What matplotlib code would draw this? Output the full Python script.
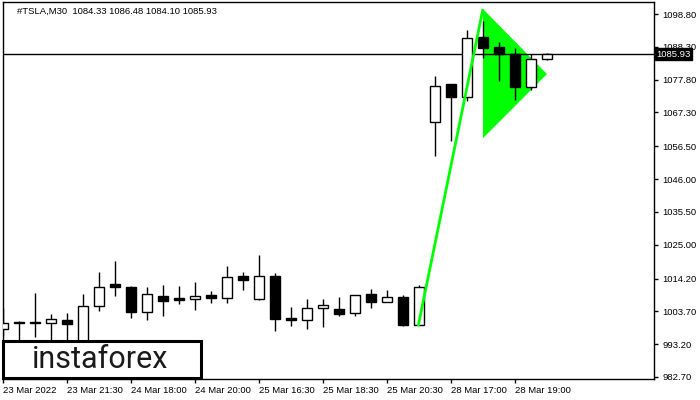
import matplotlib
matplotlib.use("Agg")
import matplotlib.pyplot as plt
import matplotlib.transforms as mtransforms
from matplotlib.patches import Rectangle

# ---- data ----
opens  = [998.2, 1000.4, 1000.4, 999.9, 1000.9, 993.5, 1005.5, 1012.5, 1011.5, 1003.6,
          1008.6, 1007.9, 1007.7, 1008.9, 1008.1, 1014.9, 1007.7, 1014.9, 1001.6, 1001.0,
          1004.9, 1004.4, 1003.1, 1009.3, 1006.6, 1008.2, 999.4, 1064.2, 1076.4, 1072.4,
          1091.4, 1088.1, 1085.9, 1075.4, 1084.33]
highs  = [1004.8, 1000.6, 1009.7, 1002.9, 1003.3, 1009.4, 1016.3, 1019.8, 1011.8, 1011.5,
          1012.2, 1011.8, 1013.1, 1010.2, 1018.2, 1016.3, 1021.7, 1015.9, 1005.0, 1007.7,
          1007.7, 1008.3, 1008.8, 1010.9, 1010.4, 1008.8, 1012.1, 1079.0, 1076.4, 1093.7,
          1096.7, 1089.8, 1087.8, 1085.9, 1086.48]
lows   = [995.8, 992.5, 995.4, 992.5, 992.5, 991.0, 1003.9, 1008.7, 1001.7, 1000.9,
          1002.3, 1006.0, 1004.1, 1006.3, 1006.3, 1010.6, 1007.4, 997.3, 999.1, 998.2,
          998.8, 1002.1, 1002.3, 1004.9, 1006.6, 999.0, 999.4, 1053.5, 1058.3, 1071.1,
          1084.8, 1077.4, 1071.4, 1074.5, 1084.10]
closes = [999.9, 1000.0, 999.9, 1001.3, 999.8, 1005.4, 1011.5, 1011.6, 1003.5, 1009.3,
          1007.1, 1007.3, 1008.6, 1008.1, 1014.6, 1013.8, 1014.9, 1001.4, 1001.0, 1004.7,
          1005.6, 1003.0, 1008.8, 1006.6, 1008.2, 999.4, 1011.4, 1075.8, 1072.4, 1091.0,
          1088.0, 1085.9, 1075.5, 1084.3, 1085.93]

pole_x = [25.95, 30.0]
pole_y = [999.0, 1100.4]
pennant_x = [30.0, 30.0, 34.0]
pennant_y = [1100.4, 1059.1, 1079.6]

last_price = 1085.93
title = "#TSLA,M30  1084.33 1086.48 1084.10 1085.93"

ytick_vals = [1098.80, 1088.30, 1077.80, 1067.30, 1056.50, 1046.00, 1035.50,
              1025.00, 1014.20, 1003.70, 993.20, 982.70]
xtick_pos = [0, 4, 8, 12, 16, 20, 24, 28, 32]
xtick_labels = ["23 Mar 2022", "23 Mar 21:30", "24 Mar 18:00", "24 Mar 20:00",
                "25 Mar 16:30", "25 Mar 18:30", "25 Mar 20:30", "28 Mar 17:00",
                "28 Mar 19:00"]

# ---- figure ----
W, H = 700, 400
fig = plt.figure(figsize=(7, 4), dpi=100)
ax = fig.add_axes([3 / W, 21 / H, 651 / W, 377 / H])
FONT = "Liberation Sans"
FS = 6.8

ax.set_xlim(0, 40.69)
ax.set_ylim(982.06, 1102.64)

# pennant triangle (below candles)
ax.fill(pennant_x, pennant_y, color="#00ff00", zorder=1, linewidth=0)

# price line
ax.axhline(last_price, color="black", lw=1, zorder=2)

# candles
bw = 0.62
for i, (o, h, l, c) in enumerate(zip(opens, highs, lows, closes)):
    ax.vlines(i, l, h, color="black", lw=1, zorder=3)
    bottom = min(o, c)
    height = max(abs(c - o), 0.3)
    face = "white" if c >= o else "black"
    ax.add_patch(Rectangle((i - bw / 2, bottom), bw, height, facecolor=face,
                           edgecolor="black", lw=1, zorder=4))

# flag pole
ax.plot(pole_x, pole_y, color="#00ff00", lw=2, zorder=5, solid_capstyle="butt")

# axes styling
for s in ax.spines.values():
    s.set_color("black")
    s.set_linewidth(1)
ax.yaxis.tick_right()
ax.set_yticks(ytick_vals)
ax.set_yticklabels([f"{v:.2f}" for v in ytick_vals], fontfamily=FONT, fontsize=FS)
ax.set_xticks(xtick_pos)
ax.set_xticklabels(xtick_labels, fontfamily=FONT, fontsize=FS, ha="left")
ax.tick_params(axis="both", direction="out", length=3, width=1, color="black", pad=2)
ax.tick_params(axis="y", pad=3)

# last price box
trans = mtransforms.blended_transform_factory(ax.transAxes, ax.transData)
ax.text(1.003, last_price, f"{last_price:.2f}", transform=trans, ha="left",
        va="center", color="white", fontfamily=FONT, fontsize=FS, zorder=10,
        clip_on=False,
        bbox=dict(boxstyle="square,pad=0.15", facecolor="black", edgecolor="black"))

# title
fig.text(17 / W, 1 - 11 / H, title, fontfamily=FONT, fontsize=FS, ha="left",
         va="center", color="black")

# logo box
fig.add_artist(Rectangle((3 / W, 1 - 378 / H), 198 / W, 37 / H,
                         transform=fig.transFigure, facecolor="white",
                         edgecolor="black", lw=2.2, zorder=20))
fig.text(100.5 / W, 1 - 360 / H, "instaforex", fontfamily=["Roboto", "DejaVu Sans"],
         fontweight="normal", fontsize=22, ha="center", va="center",
         color="#1a1a1a", zorder=21)

fig.savefig("out.png", dpi=100, facecolor="white")
